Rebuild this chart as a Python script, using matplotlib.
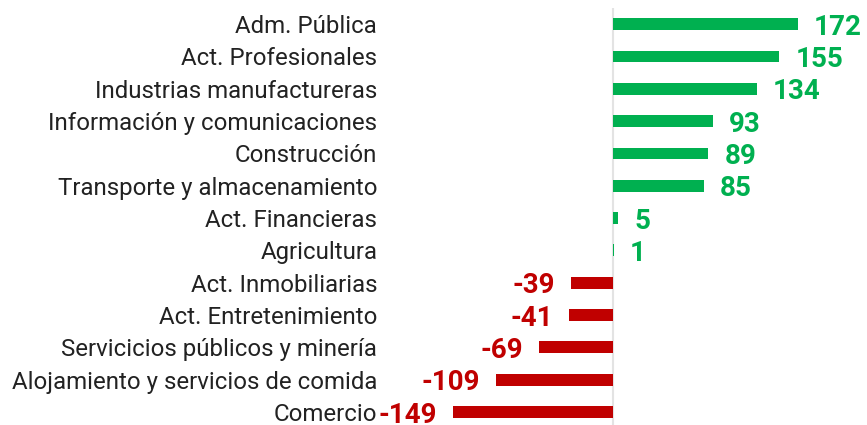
import matplotlib
matplotlib.use('Agg')
import matplotlib.pyplot as plt

# datos
categorias = ['Adm. Pública', 'Act. Profesionales', 'Industrias manufactureras',
              'Información y comunicaciones', 'Construcción',
              'Transporte y almacenamiento', 'Act. Financieras', 'Agricultura',
              'Act. Inmobiliarias', 'Act. Entretenimiento',
              'Servicicios públicos y minería',
              'Alojamiento y servicios de comida', 'Comercio']
valores = [172, 155, 134, 93, 89, 85, 5, 1, -39, -41, -69, -109, -149]

verde = '#00B050'
rojo = '#C00000'

plt.rcParams['font.family'] = ['Roboto', 'DejaVu Sans']

W, H = 867, 425
fig = plt.figure(figsize=(W / 100, H / 100), dpi=100)

# ejes en pixeles: izquierda 380, derecha 860, arriba 8, abajo 425
x0, x1 = 380, 860
y_top, y_bot = 8, 425
ax = fig.add_axes([x0 / W, 0, (x1 - x0) / W, (y_bot - y_top) / H])

escala = 1.073  # px por unidad
cero = 613
ax.set_xlim((x0 - cero) / escala, (x1 - cero) / escala)
paso = 32.33
ax.set_ylim(-0.5 + (y_bot - y_top) / paso, -0.5)

pos = list(range(len(categorias)))
colores = [verde if v >= 0 else rojo for v in valores]
ax.barh(pos, valores, height=0.37, color=colores)
ax.axvline(0, color='#e3e3e3', lw=1.5, zorder=0)

off = 16 / escala
for p, v, c in zip(pos, valores, colores):
    if v >= 0:
        ax.text(v + off, p, str(v), ha='left', va='center_baseline', color=c,
                fontsize=20, fontweight='bold')
    else:
        ax.text(v - off, p, str(v), ha='right', va='center_baseline', color=c,
                fontsize=20, fontweight='bold')

ax.set_yticks(pos)
ax.set_yticklabels(categorias, fontsize=17.3, color='#222222')
ax.tick_params(axis='y', length=0, pad=2)
ax.set_xticks([])
for s in ax.spines.values():
    s.set_visible(False)

fig.savefig('out.png', dpi=100)
